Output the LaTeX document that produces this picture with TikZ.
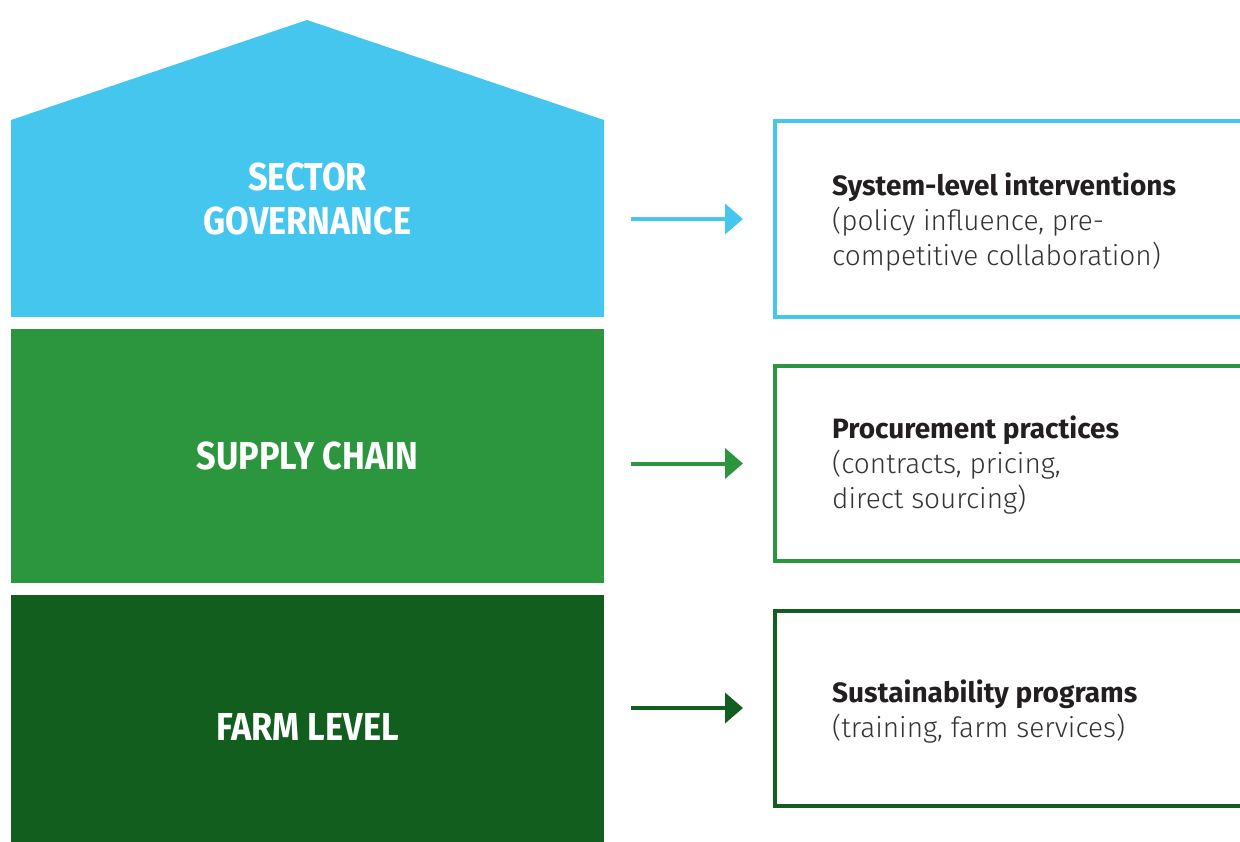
\documentclass[tikz,border=0pt]{standalone}
\usepackage{fontspec}
\setmainfont{Fira Sans}
\newfontfamily\headf[FakeStretch=0.88]{Fira Sans}
\newfontfamily\boldf{Fira Sans}
\newfontfamily\lightf{Fira Sans Light}
\usetikzlibrary{arrows.meta}
\definecolor{cblue}{HTML}{45C6EE}
\definecolor{cgreen}{HTML}{2C963F}
\definecolor{cdark}{HTML}{115E1F}
\definecolor{ctext}{HTML}{231F20}
\definecolor{clight}{HTML}{333333}
\tikzset{
  level/.style={draw=none, inner sep=0pt, font=\headf\bfseries\fontsize{39}{44}\selectfont, text=white, align=center},
  outbox/.style={line width=4pt, fill=white},
  desc/.style={anchor=west, align=left, inner sep=0pt, text=clight, font=\lightf\fontsize{28}{35}\selectfont},
  arr/.style={line width=4pt, -{Triangle[length=18pt,width=30pt]}},
}
\newcommand{\hd}[1]{{\boldf\bfseries\color{ctext}#1}}
\begin{document}
\begin{tikzpicture}[x=1pt,y=-1pt]
\useasboundingbox (0,0) rectangle (1240,842);
% house shapes
\fill[cblue] (11,317) -- (11,120) -- (307,20) -- (604,120) -- (604,317) -- cycle;
\node[minimum width=593pt, minimum height=197pt, inner sep=0pt] (sg) at (307.5,218.5) {};
\node[level] (sgt) at (307.5,199) {SECTOR\\GOVERNANCE};
\node[fill=cgreen, minimum width=593pt, minimum height=254pt, inner sep=0pt, level] (sc) at (307.5,456) {SUPPLY CHAIN};
\node[fill=cdark, minimum width=593pt, minimum height=250pt, inner sep=0pt] (fl) at (307.5,720) {};
\node[level] (flt) at (307.5,727) {FARM LEVEL};
% right boxes
\draw[outbox, draw=cblue] (775,121) rectangle (1250,317);
\coordinate (b1) at (775,219);
\draw[outbox, draw=cgreen] (775,366) rectangle (1250,561);
\coordinate (b2) at (775,463.5);
\draw[outbox, draw=cdark] (775,611) rectangle (1250,806);
\coordinate (b3) at (775,708);
% texts
\node[desc] (t1) at (832,222) {\hd{System-level interventions}\\(policy influence, pre-\\competitive collaboration)};
\node[desc] (t2) at (832,465) {\hd{Procurement practices}\\(contracts, pricing,\\direct sourcing)};
\node[desc] (t3) at (832,712) {\hd{Sustainability programs}\\(training, farm services)};
% arrows
\draw[arr, draw=cblue, fill=cblue, shorten <=27pt, shorten >=32pt] (b1 -| sg.east) -- (b1);
\draw[arr, draw=cgreen, fill=cgreen, shorten <=27pt, shorten >=32pt] (b2 -| sc.east) -- (b2);
\draw[arr, draw=cdark, fill=cdark, shorten <=27pt, shorten >=32pt] (b3 -| fl.east) -- (b3);
\end{tikzpicture}
\end{document}
